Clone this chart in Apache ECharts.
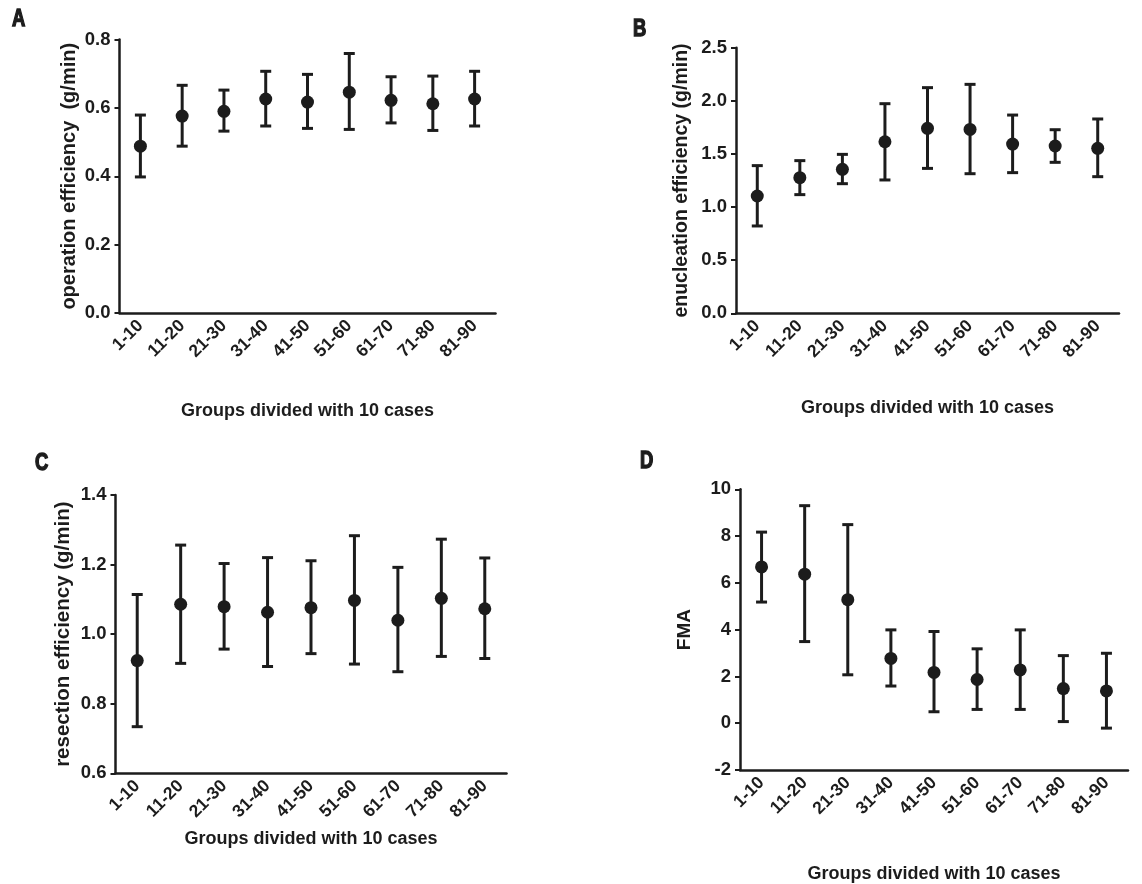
<!DOCTYPE html>
<html>
<head>
<meta charset="utf-8">
<script src="https://cdn.jsdelivr.net/npm/echarts@6/dist/echarts.min.js"></script>
<style>html,body{margin:0;padding:0;background:#fff;}#main{width:1142px;height:884px;}</style>
</head>
<body>
<div id="main"></div>
<script>
const categories = ['1-10','11-20','21-30','31-40','41-50','51-60','61-70','71-80','81-90'];

const meanA = [0.488,0.576,0.590,0.626,0.617,0.646,0.622,0.612,0.626];
const lowA  = [0.398,0.488,0.532,0.547,0.540,0.537,0.556,0.534,0.547];
const highA = [0.579,0.666,0.652,0.707,0.698,0.759,0.691,0.693,0.707];

const meanB = [1.104,1.277,1.355,1.615,1.741,1.731,1.593,1.575,1.553];
const lowB  = [0.822,1.117,1.220,1.255,1.364,1.314,1.324,1.421,1.286];
const highB = [1.390,1.437,1.496,1.973,2.124,2.155,1.866,1.728,1.829];

const meanC = [0.924,1.086,1.079,1.063,1.076,1.097,1.040,1.103,1.073];
const lowC  = [0.734,0.916,0.957,0.907,0.944,0.914,0.892,0.936,0.930];
const highC = [1.114,1.256,1.203,1.220,1.211,1.283,1.192,1.273,1.219];

const meanD = [6.68,6.37,5.28,2.77,2.17,1.87,2.28,1.48,1.38];
const lowD  = [5.18,3.49,2.07,1.59,0.49,0.59,0.59,0.07,-0.21];
const highD = [8.17,9.30,8.49,3.99,3.92,3.18,3.99,2.89,2.99];

const yTitles = ['operation efficiency  (g/min)','enucleation efficiency (g/min)','resection efficiency (g/min)','FMA'];
const xTitle = 'Groups divided with 10 cases';
const panelLetters = ['A','B','C','D'];
const yRanges = [[0,0.8,0.2],[0,2.5,0.5],[0.6,1.4,0.2],[-2,10,2]];
const yDecimals = [1,1,1,0];

const INK = '#1c1c1c';
const FONT = '"Liberation Sans", Arial, sans-serif';

const grids = [
  {left:119.5, top:39.5, width:376, height:273.5},
  {left:736, top:47.7, width:383, height:265.6},
  {left:115.5, top:495, width:391, height:278.3},
  {left:740, top:489.3, width:388, height:283.4}
];
const yNameGaps = [40, 44, 42, 46];
const xNameGaps = [89, 86, 57, 95];
const yNameSizes = [20, 19.5, 20.5, 19];

const means = [meanA,meanB,meanC,meanD];
const lows = [lowA,lowB,lowC,lowD];
const highs = [highA,highB,highC,highD];

const xAxes = [], yAxes = [], series = [];
for (let k = 0; k < 4; k++) {
  xAxes.push({
    type:'category', gridIndex:k, data:categories, boundaryGap:true,
    name:xTitle, nameLocation:'middle', nameGap:xNameGaps[k],
    nameTextStyle:{color:INK, fontSize:18, fontWeight:'bold', fontFamily:FONT},
    axisLine:{onZero:false, lineStyle:{color:INK, width:2.5}},
    axisTick:{alignWithLabel:true, length:6, lineStyle:{color:INK, width:2}},
    axisLabel:{rotate:45, color:INK, fontSize:17.5, fontWeight:'bold', fontFamily:FONT, margin:10, interval:0},
    splitLine:{show:false}
  });
  const r = yRanges[k];
  yAxes.push({
    type:'value', gridIndex:k, min:r[0], max:r[1], interval:r[2],
    name:yTitles[k], nameLocation:'middle', nameGap:yNameGaps[k],
    nameTextStyle:{color:INK, fontSize:yNameSizes[k], fontWeight:'bold', fontFamily:FONT},
    axisLine:{show:true, onZero:false, lineStyle:{color:INK, width:2.5}},
    axisTick:{show:true, length:5, lineStyle:{color:INK, width:2}},
    axisLabel:{color:INK, fontSize:18.5, fontWeight:'bold', fontFamily:FONT, margin:9,
      formatter:(v)=>Number(v).toFixed(yDecimals[k])},
    splitLine:{show:false}
  });
  const ebData = categories.map((c,i)=>[i, lows[k][i], highs[k][i]]);
  series.push({
    type:'custom', xAxisIndex:k, yAxisIndex:k, data:ebData, z:2,
    renderItem:function(params, api){
      const lo = api.coord([api.value(0), api.value(1)]);
      const hi = api.coord([api.value(0), api.value(2)]);
      const hw = 5.5;
      const st = {stroke:INK, lineWidth:3};
      return {type:'group', children:[
        {type:'line', shape:{x1:lo[0],y1:lo[1],x2:hi[0],y2:hi[1]}, style:st},
        {type:'line', shape:{x1:lo[0]-hw,y1:lo[1],x2:lo[0]+hw,y2:lo[1]}, style:st},
        {type:'line', shape:{x1:hi[0]-hw,y1:hi[1],x2:hi[0]+hw,y2:hi[1]}, style:st}
      ]};
    }
  });
  series.push({
    type:'scatter', xAxisIndex:k, yAxisIndex:k, data:means[k].map((v,i)=>[i,v]),
    symbol:'circle', symbolSize:13, itemStyle:{color:INK, opacity:1}, z:3
  });
}

const letterPos = [[12,8],[633,18],[35,452],[640,450]];
const graphic = panelLetters.map((t,i)=>({
  type:'text', x:letterPos[i][0], y:letterPos[i][1], scaleX:0.8,
  style:{text:t, fill:INK, stroke:INK, lineWidth:1.4, fontSize:23, fontWeight:'bold', fontFamily:FONT}
}));

const chart = echarts.init(document.getElementById('main'), null, {renderer:'canvas'});
chart.setOption({
  backgroundColor:'#ffffff',
  animation:false,
  grid:grids,
  xAxis:xAxes,
  yAxis:yAxes,
  series:series,
  graphic:graphic
});
</script>
</body>
</html>
